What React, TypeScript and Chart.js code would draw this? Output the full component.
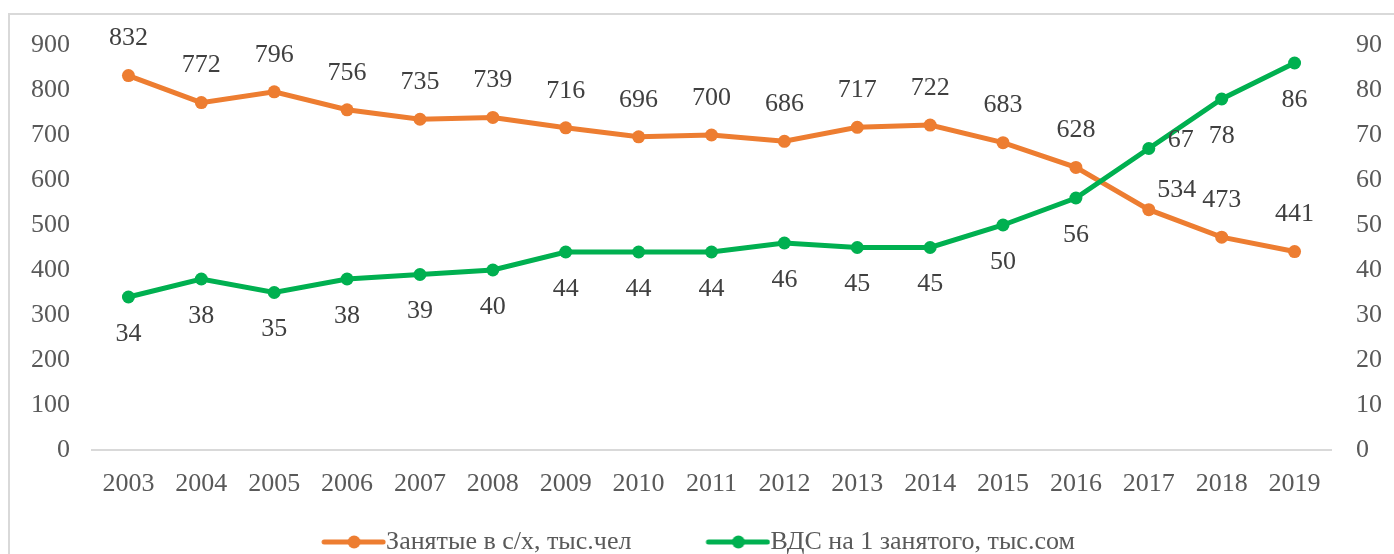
import React, { useEffect, useRef } from "react";
import { Chart, registerables } from "chart.js";

Chart.register(...registerables);

// ---- data ----
const years = ["2003", "2004", "2005", "2006", "2007", "2008", "2009", "2010", "2011", "2012", "2013", "2014", "2015", "2016", "2017", "2018", "2019"];
const employed = [832, 772, 796, 756, 735, 739, 716, 696, 700, 686, 717, 722, 683, 628, 534, 473, 441];
const gvaPerWorker = [34, 38, 35, 38, 39, 40, 44, 44, 44, 46, 45, 45, 50, 56, 67, 78, 86];
const seriesNames = ["Занятые в с/х, тыс.чел", "ВДС на 1 занятого, тыс.сом"];

const ORANGE = "#ED7D31";
const GREEN = "#00B050";
const FONT = "'Liberation Serif', 'Times New Roman', serif";
const FONT_SIZE = 26;
const TICK_COLOR = "#595959";
const LABEL_COLOR = "#404040";
const LEGEND_BOX = 114;
const LEGEND_RIGHT_INSET = 60;

// label placement per dataset: default offset + per-index overrides
const labelPlacement = [
  { dx: 0, dy: -37, special: { 14: [28, -20] } as Record<number, number[]> },
  { dx: 0, dy: 37, special: { 14: [32, -8] } as Record<number, number[]> },
];

const dataLabelPlugin = {
  id: "dataLabels",
  afterDatasetsDraw(chart: any) {
    const ctx = chart.ctx;
    ctx.save();
    ctx.font = `${FONT_SIZE}px ${FONT}`;
    ctx.fillStyle = LABEL_COLOR;
    ctx.textAlign = "center";
    ctx.textBaseline = "middle";
    chart.data.datasets.forEach((ds: any, di: number) => {
      const meta = chart.getDatasetMeta(di);
      const place = labelPlacement[di];
      meta.data.forEach((pt: any, i: number) => {
        const sp = place.special[i];
        const dx = sp ? sp[0] : place.dx;
        const dy = sp ? sp[1] : place.dy;
        ctx.fillText(String(ds.data[i]), pt.x + dx, pt.y + dy);
      });
    });
    ctx.restore();
  },
};

// shifts the centred legend row a little to the left, like the original
const legendShiftPlugin = {
  id: "legendShift",
  beforeDraw(chart: any) {
    if (chart.legend) chart.legend.right = chart.width - LEGEND_RIGHT_INSET;
  },
};

function legendSwatch(color: string): HTMLCanvasElement {
  const c = document.createElement("canvas");
  const w = LEGEND_BOX + FONT_SIZE;
  c.width = w;
  c.height = 18;
  const g = c.getContext("2d")!;
  g.strokeStyle = color;
  g.lineWidth = 5;
  g.lineCap = "round";
  g.beginPath();
  g.moveTo(w - 62, 9);
  g.lineTo(w - 3, 9);
  g.stroke();
  g.fillStyle = color;
  g.beginPath();
  g.arc(w - 32, 9, 6.5, 0, Math.PI * 2);
  g.fill();
  return c;
}

export default function App() {
  const ref = useRef<HTMLCanvasElement>(null);

  useEffect(() => {
    if (!ref.current) return;
    const swatches = [legendSwatch(ORANGE), legendSwatch(GREEN)];
    const chart = new Chart(ref.current, {
      type: "line",
      data: {
        labels: years,
        datasets: [
          {
            label: seriesNames[0],
            data: employed,
            borderColor: ORANGE,
            backgroundColor: ORANGE,
            borderWidth: 5,
            pointRadius: 6.5,
            pointBorderWidth: 0,
            yAxisID: "y",
            order: 1,
          },
          {
            label: seriesNames[1],
            data: gvaPerWorker,
            borderColor: GREEN,
            backgroundColor: GREEN,
            borderWidth: 5,
            pointRadius: 6.5,
            pointBorderWidth: 0,
            yAxisID: "y1",
            order: 0,
          },
        ],
      },
      options: {
        responsive: false,
        animation: false,
        events: [],
        layout: { padding: { top: 45, left: 0, right: 0, bottom: 0 } },
        scales: {
          x: {
            offset: true,
            grid: { display: false, drawTicks: false, offset: true },
            border: { display: true, color: "#D9D9D9", width: 2 },
            ticks: { color: TICK_COLOR, font: { family: FONT, size: FONT_SIZE }, padding: 19, maxRotation: 0, autoSkip: false },
            afterFit: (s: any) => { s.height = 67; },
          },
          y: {
            position: "left",
            min: 0,
            max: 900,
            grid: { display: false, drawTicks: false },
            border: { display: false },
            ticks: { stepSize: 100, color: TICK_COLOR, font: { family: FONT, size: FONT_SIZE }, padding: 22 },
            afterFit: (s: any) => { s.width = 92; },
          },
          y1: {
            position: "right",
            min: 0,
            max: 90,
            grid: { display: false, drawTicks: false },
            border: { display: false },
            ticks: { stepSize: 10, color: TICK_COLOR, font: { family: FONT, size: FONT_SIZE }, padding: 25 },
            afterFit: (s: any) => { s.width = 63; },
          },
        },
        plugins: {
          tooltip: { enabled: false },
          legend: {
            position: "bottom",
            labels: {
              usePointStyle: true,
              pointStyleWidth: LEGEND_BOX,
              padding: 12,
              color: TICK_COLOR,
              font: { family: FONT, size: FONT_SIZE },
              sort: (a: any, b: any) => a.datasetIndex - b.datasetIndex,
              generateLabels: (c: any) => {
                const items = Chart.defaults.plugins.legend.labels.generateLabels(c);
                return items.map((it: any) => ({ ...it, pointStyle: swatches[it.datasetIndex] }));
              },
            },
          },
        },
      },
      plugins: [dataLabelPlugin, legendShiftPlugin],
    } as any);
    return () => chart.destroy();
  }, []);

  return (
    <div style={{ position: "fixed", left: 0, top: 0, width: 1394, height: 554, overflow: "hidden", background: "#fff" }}>
      <div
        style={{
          position: "absolute",
          left: 8,
          top: 13,
          width: 1500,
          height: 700,
          borderTop: "2px solid #D9D9D9",
          borderLeft: "2px solid #D9D9D9",
        }}
      />
      <canvas ref={ref} width={1394} height={565} style={{ position: "absolute", left: 0, top: 0 }} />
    </div>
  );
}
